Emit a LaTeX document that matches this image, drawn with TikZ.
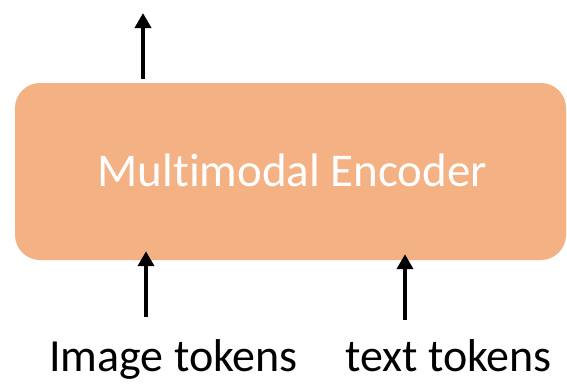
\documentclass[tikz,border=0pt]{standalone}
\usepackage{fontspec}
\setmainfont{Carlito}[Ligatures=NoCommon]
\usetikzlibrary{arrows.meta}
\definecolor{encfill}{HTML}{F4B183}
\tikzset{
  enc/.style={fill=encfill, rounded corners=25pt, minimum width=551pt, minimum height=177pt, inner sep=0pt},
  arr/.style={line width=4pt, -{Triangle[width=16pt,length=15pt]}},
  lbl/.style={anchor=base, inner sep=0pt, font=\fontsize{46}{55}\selectfont}
}
\begin{document}
\begin{tikzpicture}[x=1pt,y=-1pt]
\useasboundingbox (0,0) rectangle (567,383);
\node[enc] (enc) at (290.5,171.5) {};
\node[lbl, text=white, font=\fontsize{47}{56}\selectfont] (enclbl) at (292.5,186) {Multimodal Encoder};

\node[lbl] (img) at (173.5,371) {Image tokens};
\node[lbl] (txt) at (448.5,371) {text tokens};

\coordinate (out) at (143,13);
\coordinate (in1) at (146,317);
\coordinate (in2) at (405,320);
\draw[arr] ([yshift=4pt]out |- enc.north) -- (out);
\draw[arr] (in1) -- ([yshift=9pt]in1 |- enc.south);
\draw[arr] (in2) -- ([yshift=6pt]in2 |- enc.south);
\end{tikzpicture}
\end{document}
